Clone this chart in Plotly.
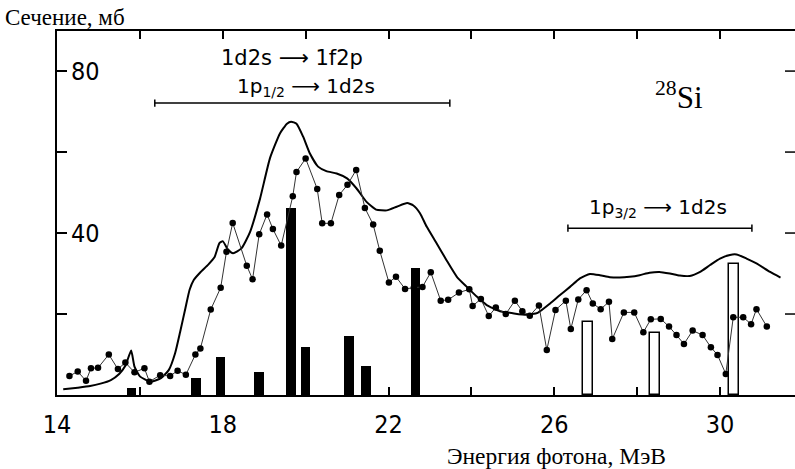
import plotly.graph_objects as go

# Theoretical cross section (solid curve), MeV / mb
theory_x = [14.15, 14.5, 14.8, 15.05, 15.3, 15.5, 15.65, 15.79, 15.87, 16.0, 16.25, 16.5,
            16.7, 16.85, 16.97, 17.1, 17.2, 17.3, 17.45, 17.65, 17.8, 17.92, 18.0, 18.12,
            18.25, 18.45, 18.66, 18.9, 19.14, 19.38, 19.55, 19.65, 19.78, 19.94, 20.1, 20.3,
            20.5, 20.75, 21.0, 21.23, 21.47, 21.7, 21.96, 22.2, 22.45, 22.6, 22.76, 22.92,
            23.16, 23.4, 23.65, 23.89, 24.13, 24.37, 24.69, 25.0, 25.33, 25.6, 25.9, 26.14,
            26.38, 26.62, 26.86, 27.1, 27.34, 27.58, 27.82, 28.06, 28.3, 28.54, 28.79, 29.03,
            29.27, 29.52, 29.76, 30.0, 30.24, 30.4, 30.64, 30.88, 31.21, 31.46]
theory_y = [1.4, 1.8, 2.2, 2.8, 3.7, 5.2, 7.2, 11.0, 7.0, 4.6, 3.3, 4.1,
            6.2, 10.3, 15.5, 21.5, 26.0, 28.4, 30.2, 32.2, 34.0, 37.5, 38.0, 36.0,
            35.0, 36.2, 40.3, 48.5, 58.5, 64.6, 67.0, 67.5, 67.0, 63.8, 59.7, 56.4,
            55.3, 54.7, 53.5, 51.0, 47.7, 45.8, 45.6, 46.5, 47.4, 46.8, 44.9, 41.6,
            37.5, 33.3, 29.2, 26.7, 24.3, 22.2, 20.7, 20.2, 19.8, 20.3, 22.6, 24.7,
            26.7, 28.8, 29.9, 29.6, 29.1, 29.0, 29.2, 29.6, 30.2, 30.4, 30.0, 29.5,
            29.4, 30.4, 32.1, 33.7, 34.6, 34.7, 33.7, 32.5, 30.4, 29.0]

# Measured cross section (connected dots)
exp_x = [14.30, 14.50, 14.70, 14.82, 14.99, 15.25, 15.47, 15.65, 15.87, 16.11, 16.23, 16.49,
         16.73, 16.91, 17.11, 17.34, 17.46, 17.71, 17.95, 18.09, 18.24, 18.58, 18.72, 18.88,
         19.07, 19.21, 19.41, 19.69, 19.78, 20.00, 20.28, 20.40, 20.61, 20.81, 21.01, 21.22,
         21.43, 21.63, 21.79, 22.01, 22.18, 22.40, 22.61, 22.82, 23.02, 23.26, 23.44, 23.70,
         23.95, 24.03, 24.23, 24.42, 24.59, 24.83, 25.05, 25.23, 25.41, 25.63, 25.82, 26.03,
         26.28, 26.40, 26.58, 26.78, 26.93, 27.12, 27.32, 27.40, 27.68, 27.93, 28.15, 28.33,
         28.57, 28.77, 28.95, 29.13, 29.34, 29.58, 29.78, 29.94, 30.14, 30.32, 30.56, 30.75,
         30.88, 31.13]
exp_y = [4.7, 5.8, 3.5, 6.6, 6.7, 10.0, 6.4, 8.0, 5.6, 6.6, 3.3, 4.9,
         4.7, 6.0, 5.0, 10.0, 11.5, 21.1, 26.5, 35.4, 42.5, 31.9, 28.6, 39.7,
         44.6, 41.0, 36.9, 49.1, 55.1, 58.4, 50.9, 42.4, 42.4, 49.4, 51.9, 55.6,
         46.2, 42.1, 35.6, 27.8, 29.2, 26.2, 26.5, 26.7, 30.3, 23.3, 23.5, 25.3,
         26.1, 22.0, 23.7, 19.5, 21.6, 20.0, 23.3, 20.7, 19.6, 22.1, 11.1, 21.0,
         23.3, 16.3, 23.6, 25.9, 22.6, 21.2, 23.0, 13.8, 20.4, 20.4, 15.5, 18.7,
         18.8, 16.9, 14.8, 12.6, 15.9, 14.8, 11.8, 9.9, 5.2, 19.2, 19.2, 17.5,
         21.2, 16.9]

# Transition strengths: filled bars (lower shell) and open bars (1p3/2)
filled_x = [15.80, 17.35, 17.95, 18.88, 19.65, 20.00, 21.05, 21.46, 22.65]
filled_y = [1.8, 4.1, 9.5, 5.8, 46.1, 11.9, 14.6, 7.2, 31.4]
open_x = [26.82, 28.44, 30.33]
open_y = [18.1, 15.2, 32.3]

# Energy ranges of the configurations (brackets)
range_upper = [16.36, 23.48]
range_upper_level = 72.1
range_lower = [26.33, 30.77]
range_lower_level = 41.2

x_ticks = [14, 16, 18, 20, 22, 24, 26, 28, 30]
x_labels = ["14", "", "18", "", "22", "", "26", "", "30"]
y_ticks = [20, 40, 60, 80]
y_labels = ["", "40", "", "80"]

TICK_FONT = "Liberation Sans Narrow, DejaVu Sans Condensed, Liberation Sans, sans-serif"
SERIF = "Liberation Serif, Times New Roman, serif"
HAND = "DejaVu Sans, sans-serif"

fig = go.Figure()

fig.add_trace(go.Bar(x=filled_x, y=filled_y, width=0.23,
                     marker=dict(color="black", line=dict(color="black", width=0)),
                     showlegend=False))
fig.add_trace(go.Bar(x=open_x, y=open_y, width=0.24,
                     marker=dict(color="white", line=dict(color="black", width=1.5)),
                     showlegend=False))
fig.add_trace(go.Scatter(x=theory_x, y=theory_y, mode="lines",
                         line=dict(color="black", width=2, shape="spline", smoothing=0.5),
                         showlegend=False))
fig.add_trace(go.Scatter(x=exp_x, y=exp_y, mode="lines+markers",
                         line=dict(color="#333333", width=1),
                         marker=dict(color="black", size=6.5),
                         showlegend=False))

shapes = []
# brackets with end caps
for (x0, x1), lvl in [(range_upper, range_upper_level), (range_lower, range_lower_level)]:
    shapes.append(dict(type="line", xref="x", yref="y", x0=x0, x1=x1, y0=lvl, y1=lvl,
                       line=dict(color="black", width=1.5)))
    for xe in (x0, x1):
        shapes.append(dict(type="line", xref="x", yref="y", x0=xe, x1=xe,
                           y0=lvl - 0.9, y1=lvl + 0.9, line=dict(color="black", width=1.5)))
# inward ticks on the right edge (no axis line there)
for v in y_ticks:
    shapes.append(dict(type="line", xref="paper", yref="y", xsizemode="pixel", xanchor=1,
                       x0=-10, x1=0, y0=v, y1=v, line=dict(color="black", width=1.5)))

annotations = [
    dict(text="1d2s ⟶ 1f2p", x=19.68, y=83.2, font=dict(family=HAND, size=21)),
    dict(text="1p<sub>1/2</sub> ⟶ 1d2s", x=20.01, y=76.0, font=dict(family=HAND, size=20)),
    dict(text="<sup>28</sup>Si", x=29.01, y=74.0, font=dict(family=SERIF, size=31)),
    dict(text="1p<sub>3/2</sub> ⟶ 1d2s", x=28.5, y=46.2, font=dict(family=HAND, size=20)),
]
for a in annotations:
    a.update(xref="x", yref="y", showarrow=False, font_color="black")

# y tick labels sit inside the frame, right of the inward ticks
for v, lab in zip(y_ticks, y_labels):
    if lab:
        annotations.append(dict(text=lab, xref="paper", yref="y", x=0, y=v, xshift=12,
                                xanchor="left", yanchor="middle", showarrow=False,
                                font=dict(family=TICK_FONT, size=25, color="black")))

annotations += [
    dict(text="Сечение, мб", xref="paper", yref="paper", x=-54 / 738, y=1 + 13 / 364,
         xanchor="left", yanchor="middle", showarrow=False,
         font=dict(family=SERIF, size=23, color="black")),
    dict(text="Энергия фотона, МэВ", xref="paper", yref="paper", x=(445 - 57) / 738,
         y=-61 / 364, xanchor="left", yanchor="middle", showarrow=False,
         font=dict(family=SERIF, size=23.5, color="black")),
]

fig.update_layout(
    width=795, height=469,
    margin=dict(l=57, r=0, t=31, b=74),
    paper_bgcolor="white", plot_bgcolor="white",
    bargap=0, barmode="overlay",
    shapes=shapes, annotations=annotations,
    xaxis=dict(range=[14, 31.81], tickvals=x_ticks, ticktext=x_labels,
               ticks="inside", ticklen=8, tickwidth=1.5, tickcolor="black",
               showline=True, linecolor="black", linewidth=2, mirror="ticks",
               showgrid=False, zeroline=False, ticklabelstandoff=6,
               tickfont=dict(family=TICK_FONT, size=25, color="black")),
    yaxis=dict(range=[0, 89.9], tickvals=y_ticks, showticklabels=False,
               ticks="inside", ticklen=10, tickwidth=1.5, tickcolor="black",
               showline=True, linecolor="black", linewidth=2,
               showgrid=False, zeroline=False),
)

fig.write_html("out.html")
